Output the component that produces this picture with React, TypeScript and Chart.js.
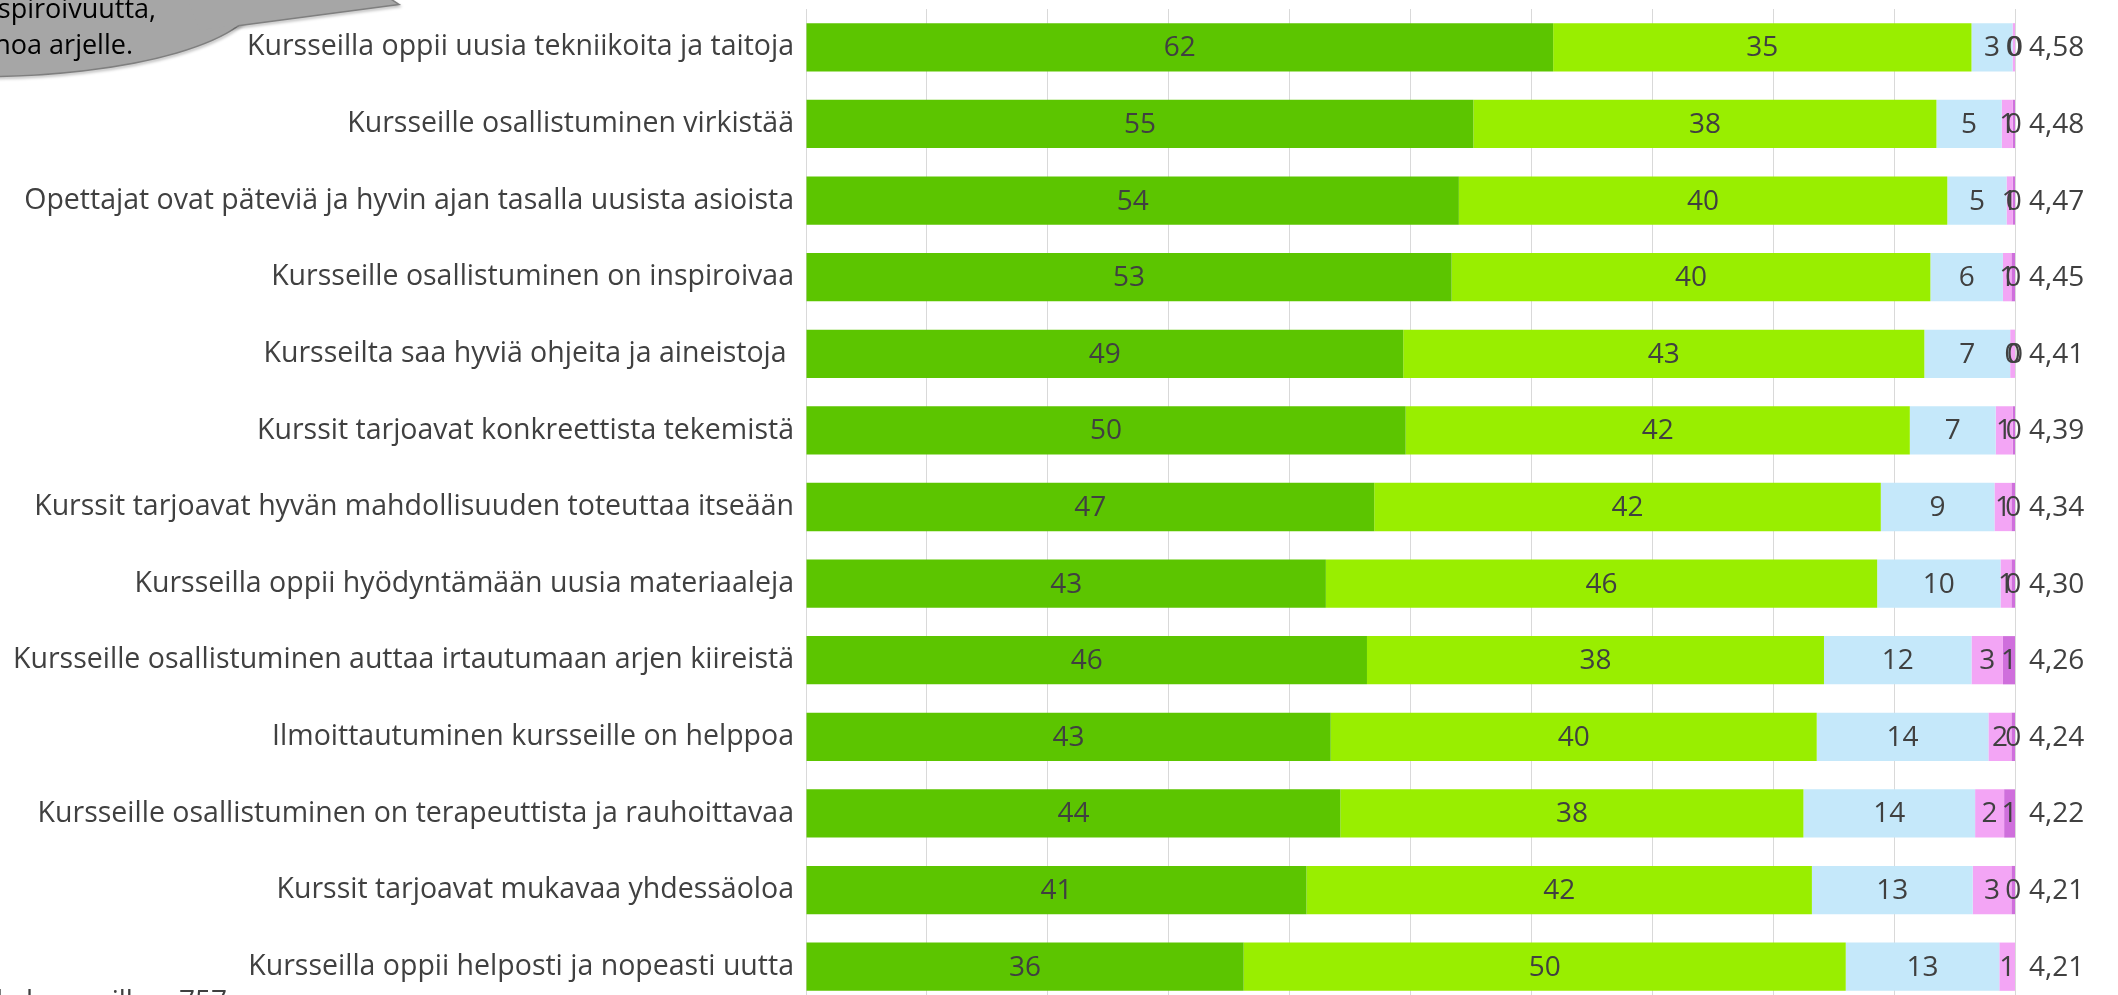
import React, { useEffect, useRef } from "react";
import { Chart, registerables } from "chart.js";

Chart.register(...registerables);

const categories = [
  "Kursseilla oppii uusia tekniikoita ja taitoja",
  "Kursseille osallistuminen virkistää",
  "Opettajat ovat päteviä ja hyvin ajan tasalla uusista asioista",
  "Kursseille osallistuminen on inspiroivaa",
  "Kursseilta saa hyviä ohjeita ja aineistoja ",
  "Kurssit tarjoavat konkreettista tekemistä",
  "Kurssit tarjoavat hyvän mahdollisuuden toteuttaa itseään",
  "Kursseilla oppii hyödyntämään uusia materiaaleja",
  "Kursseille osallistuminen auttaa irtautumaan arjen kiireistä",
  "Ilmoittautuminen kursseille on helppoa",
  "Kursseille osallistuminen on terapeuttista ja rauhoittavaa",
  "Kurssit tarjoavat mukavaa yhdessäoloa",
  "Kursseilla oppii helposti ja nopeasti uutta",
];

const seriesNames = [
  "Täysin samaa mieltä",
  "Jokseenkin samaa mieltä",
  "Ei samaa eikä eri mieltä",
  "Jokseenkin eri mieltä",
  "Täysin eri mieltä",
];

const fullyAgree = [61.8, 55.2, 54.0, 53.4, 49.4, 49.6, 47.0, 43.0, 46.4, 43.4, 44.2, 41.4, 36.2];
const somewhatAgree = [34.6, 38.3, 40.4, 39.6, 43.1, 41.7, 41.9, 45.6, 37.8, 40.2, 38.3, 41.8, 49.8];
const neutral = [3.4, 5.4, 4.9, 6.0, 7.1, 7.1, 9.4, 10.2, 12.2, 14.2, 14.2, 13.3, 12.7];
const somewhatDisagree = [0.2, 0.9, 0.5, 0.7, 0.4, 1.4, 1.4, 0.9, 2.6, 1.9, 2.4, 3.2, 1.3];
const fullyDisagree: (number | null)[] = [0.0, 0.2, 0.2, 0.3, 0.0, 0.2, 0.3, 0.3, 1.0, 0.3, 0.9, 0.3, null];

const means = ["4,58", "4,48", "4,47", "4,45", "4,41", "4,39", "4,34", "4,30", "4,26", "4,24", "4,22", "4,21", "4,21"];

const colors = ["#5CC500", "#99EE00", "#C5E8FA", "#F3A5F5", "#CF6FDC"];

const calloutLines = ["inspiroivuutta,", "vastapainoa arjelle."];
const footnote = "Vastaajia kaikilla kursseilla = 757";

const FONT = '"Open Sans", sans-serif';

const labelPlugin = {
  id: "segmentLabels",
  afterDatasetsDraw(chart: any) {
    const ctx = chart.ctx;
    ctx.save();
    ctx.font = `28px ${FONT}`;
    ctx.fillStyle = "#404040";
    ctx.textAlign = "center";
    ctx.textBaseline = "middle";
    chart.data.datasets.forEach((ds: any, i: number) => {
      const meta = chart.getDatasetMeta(i);
      meta.data.forEach((el: any, j: number) => {
        const v = ds.data[j];
        if (v === null || v === undefined) return;
        const p = el.getProps(["x", "base", "y"], true);
        ctx.fillText(String(Math.round(v)), (p.x + p.base) / 2, p.y + 1);
      });
    });
    const yScale = chart.scales.y;
    ctx.textAlign = "left";
    means.forEach((m, j) => {
      ctx.fillText(m, chart.chartArea.right + 14, yScale.getPixelForValue(j) + 1);
    });
    ctx.restore();
  },
};

const calloutPlugin = {
  id: "callout",
  afterDraw(chart: any) {
    const ctx = chart.ctx;
    ctx.save();
    const ellipsePath = () => {
      ctx.beginPath();
      ctx.ellipse(-20, -5, 278, 81, 0, 0, Math.PI * 2);
      ctx.closePath();
    };
    const wedgePath = () => {
      ctx.beginPath();
      ctx.moveTo(200, 30);
      ctx.lineTo(397, 4);
      ctx.lineTo(345, -30);
      ctx.lineTo(180, -20);
      ctx.closePath();
    };
    ctx.shadowColor = "rgba(0,0,0,0.25)";
    ctx.shadowBlur = 3;
    ctx.shadowOffsetX = 1;
    ctx.shadowOffsetY = 2;
    ctx.lineWidth = 3;
    ctx.strokeStyle = "#7F7F7F";
    ellipsePath();
    ctx.stroke();
    wedgePath();
    ctx.stroke();
    ctx.shadowColor = "transparent";
    ctx.fillStyle = "#A6A6A6";
    ellipsePath();
    ctx.fill();
    wedgePath();
    ctx.fill();
    ctx.fillStyle = "#000000";
    ctx.font = `27px ${FONT}`;
    ctx.textAlign = "right";
    ctx.textBaseline = "alphabetic";
    ctx.fillText(calloutLines[0], 156, 18);
    ctx.fillText(calloutLines[1], 133, 54);
    ctx.fillStyle = "#404040";
    ctx.font = `28px ${FONT}`;
    ctx.fillText(footnote, 227, 1010);
    ctx.restore();
  },
};

export default function App() {
  const ref = useRef<HTMLCanvasElement>(null);
  useEffect(() => {
    document.body.style.margin = "0";
    const datasets = [fullyAgree, somewhatAgree, neutral, somewhatDisagree, fullyDisagree].map((d, i) => ({
      label: seriesNames[i],
      data: d,
      backgroundColor: colors[i],
      borderWidth: 0,
      categoryPercentage: 1,
      barPercentage: 0.63,
    }));
    const chart = new Chart(ref.current!, {
      type: "bar",
      data: { labels: categories, datasets },
      options: {
        indexAxis: "y",
        animation: false,
        responsive: false,
        maintainAspectRatio: false,
        layout: { padding: { top: 9, right: 103, bottom: 5, left: 0 } },
        plugins: { legend: { display: false }, tooltip: { enabled: false } },
        scales: {
          x: {
            stacked: true,
            min: 0,
            max: 100,
            ticks: { display: false, stepSize: 10 },
            grid: { color: "#D9D9D9", lineWidth: 1, drawTicks: false },
            border: { display: false },
            afterFit: (s: any) => {
              s.height = 0;
              s.paddingLeft = 0;
              s.paddingRight = 0;
            },
          },
          y: {
            stacked: true,
            grid: { display: false, drawTicks: false },
            border: { display: false },
            ticks: {
              color: "#404040",
              font: { family: FONT, size: 28.5 },
              padding: 12,
              autoSkip: false,
            },
            afterFit: (s: any) => {
              s.width = 806;
              s.paddingTop = 0;
              s.paddingBottom = 0;
            },
          },
        },
      },
      plugins: [labelPlugin, calloutPlugin],
    } as any);
    return () => chart.destroy();
  }, []);
  return (
    <div style={{ width: 2118, height: 995, overflow: "hidden", background: "#fff" }}>
      <canvas ref={ref} width={2118} height={1010} style={{ display: "block" }} />
    </div>
  );
}
